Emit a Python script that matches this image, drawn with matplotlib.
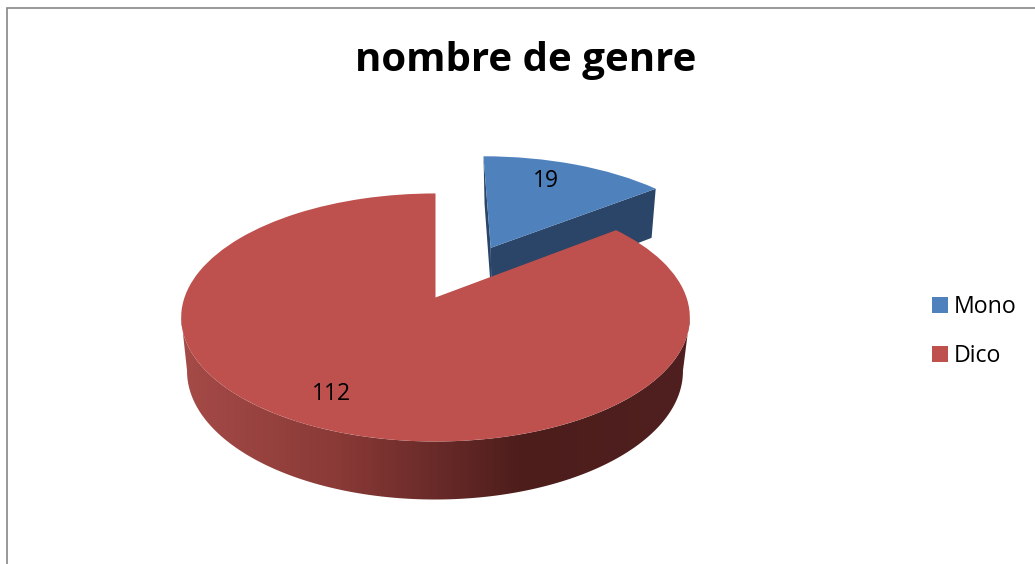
import numpy as np
import matplotlib
matplotlib.use("Agg")
import matplotlib.pyplot as plt
from matplotlib.colors import LinearSegmentedColormap
from matplotlib.patches import Patch, Polygon
from matplotlib.transforms import Transform

categories = ["Mono", "Dico"]
values = [19, 112]
title = "nombre de genre"

W, H = 1035, 564
FONT = ["Open Sans", "DejaVu Sans"]
TOP = ["#4F81BD", "#BE504D"]
CX, CY, RX, RY, K = 435.5, 297.5, 251.0, 120.8, 0.161


def project(xy):
    xy = np.asarray(xy, dtype=float)
    d = 1 + K * xy[..., 1]
    return np.stack([CX + RX * xy[..., 0] / d, CY - RY * xy[..., 1] / d], axis=-1)


class Tilt(Transform):
    input_dims = output_dims = 2
    has_inverse = False
    is_separable = False

    def transform_non_affine(self, values):
        return project(values)


def drop(p, sx=0.975, x0=435.0):
    p = np.asarray(p, dtype=float)
    xb = x0 + sx * (p[..., 0] - CX)
    yb = p[..., 1] + 49 + 0.0353 * (p[..., 1] - 186)
    return np.stack([xb, yb], axis=-1)


fig = plt.figure(figsize=(W / 100, H / 100), dpi=100, facecolor="white")
ax = fig.add_axes([0, 0, 1, 1])
wedges, _ = ax.pie(values, startangle=90, counterclock=False,
                   explode=[0.49, 0], colors=TOP, radius=1.0)
blue, red = wedges
blue.set_center((blue.center[0] + 0.02, blue.center[1]))

tilt = Tilt() + ax.transData
for w in wedges:
    w.set_transform(tilt)
    w.set_linewidth(0)

# Blue slice: the cut faces, then its top.
blue.set_zorder(3)
ang = np.radians([blue.theta1, blue.theta2])
c = np.array(blue.center)
rim = [c + np.array([np.cos(a), np.sin(a)]) for a in ang]
apex = project(c)
for r in rim:
    edge = project(r)
    face = [apex, edge, drop(edge, 0.97, 438.0), drop(apex, 0.97, 438.0)]
    ax.add_patch(Polygon(face, closed=True, facecolor="#2A4567", edgecolor="none", zorder=2))

# Red slice: outer wall, shaded along its width, then its top.
red.set_zorder(5)
shade = LinearSegmentedColormap.from_list(
    "wall", [(0, "#A44A47"), (0.30, "#8A3A37"), (0.68, "#4C1D1B"), (1, "#4F201F")])
th = np.radians(np.linspace(max(red.theta1, -190), min(red.theta2, 10), 400))
ring = np.stack([np.cos(th), np.sin(th)], axis=-1) + np.array(red.center)
upper = project(ring)
lower = drop(upper)
left = np.argmin(upper[:, 0])
right = np.argmax(upper[:, 0])
outline = np.vstack([upper[left:right + 1], lower[left:right + 1][::-1]])
wall = Polygon(outline, closed=True, facecolor="none", edgecolor="none",
               transform=ax.transData)
ax.add_patch(wall)
xs = np.arange(170, 700)
tone = np.clip((xs - 187) / (683 - 187), 0, 1)
grad = ax.imshow(tone[None, :], extent=(170, 700, 510, 300), cmap=shade,
                 vmin=0, vmax=1, aspect="auto", zorder=4, interpolation="bilinear")
grad.set_clip_path(wall)

ax.set_aspect("auto")
ax.set_xlim(0, W)
ax.set_ylim(H, 0)
ax.axis("off")

# Chart frame (left and top edges only show).
ax.plot([6.5, 6.5, W], [H, 7.5, 7.5], color="#868686", lw=1.2, zorder=1,
        solid_joinstyle="miter", clip_on=False)

ax.text(525.5, 61, title, ha="center", va="center", fontsize=29,
        fontweight="bold", family=FONT, color="black", zorder=8)
ax.text(546, 181, str(values[0]), ha="center", va="center", fontsize=16.5,
        family=FONT, color="black", zorder=8)
ax.text(331, 394, str(values[1]), ha="center", va="center", fontsize=16.5,
        family=FONT, color="black", zorder=8)

handles = [Patch(facecolor=col, edgecolor="none") for col in TOP]
leg = ax.legend(handles, categories, loc="center left",
                bbox_to_anchor=(932 / W, 1 - 331.5 / H), bbox_transform=ax.transAxes,
                frameon=False, borderpad=0, borderaxespad=0, handlelength=0.68,
                handleheight=0.68, handletextpad=0.27, labelspacing=1.1,
                prop={"family": FONT, "size": 16.7})
leg.set_zorder(8)

fig.savefig("out.png", dpi=100, facecolor="white")
